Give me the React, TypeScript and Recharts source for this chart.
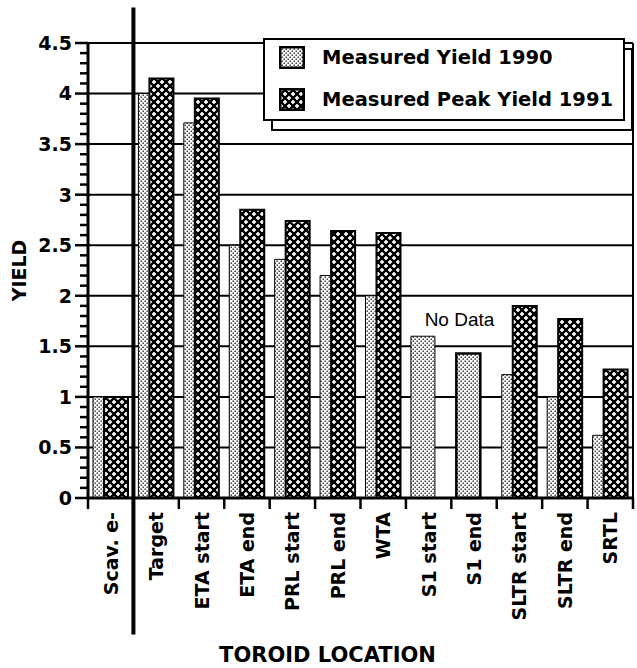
import { BarChart, Bar, XAxis, YAxis, CartesianGrid, Legend, ReferenceLine, ReferenceDot, Cell } from "recharts";

const categories = ["Scav. e-", "Target", "ETA start", "ETA end", "PRL start", "PRL end", "WTA", "S1 start", "S1 end", "SLTR start", "SLTR end", "SRTL"];
const yield1990 = [1.0, 4.0, 3.71, 2.5, 2.36, 2.2, 2.0, 1.6, 1.43, 1.22, 1.0, 0.62];
const yield1991 = [1.0, 4.15, 3.95, 2.85, 2.74, 2.64, 2.62, null, null, 1.9, 1.77, 1.27];
const majorTicks = [0, 0.5, 1, 1.5, 2, 2.5, 3, 3.5, 4, 4.5];
const minorPerMajor = 4; // small ticks every 0.1 between the labelled ones

const data = categories.map((cat, i) => ({ cat, y1990: yield1990[i], y1991: yield1991[i] }));
const order = ["y1990", "y1991"];

const W = 637;
const H = 668;
const TOP = 43;
const X_AXIS_H = 170;
const Y_AXIS_W = 88;
const PLOT_H = H - TOP - X_AXIS_H;

const FONT = "'DejaVu Sans', sans-serif";
const yMax = majorTicks[majorTicks.length - 1];
const majorStep = majorTicks[1] - majorTicks[0];
const toY = (v: number) => TOP + PLOT_H * (1 - v / yMax);

const minorTicks = majorTicks
  .slice(0, -1)
  .flatMap((t) => Array.from({ length: minorPerMajor }, (_, k) => t + (majorStep * (k + 1)) / (minorPerMajor + 1)));

const YTick = (props: any) => {
  const { x, y, payload } = props;
  return (
    <text x={Number(x) - 16} y={Number(y)} dy="0.36em" textAnchor="end" fontFamily={FONT} fontWeight="bold" fontSize={19} fill="#000">
      {String(payload.value)}
    </text>
  );
};

const XTick = ({ x, y, payload, index, visibleTicksCount, width }: any) => {
  const half = payload.offset ?? width / (2 * visibleTicksCount);
  const tx = x + 7;
  const ty = y + 14;
  return (
    <g>
      <line x1={x - half} x2={x - half} y1={y} y2={y + 11} stroke="#000" strokeWidth={2.5} />
      {index === visibleTicksCount - 1 && (
        <line x1={x + half} x2={x + half} y1={y} y2={y + 11} stroke="#000" strokeWidth={2.5} />
      )}
      <text x={tx} y={ty} transform={`rotate(-90, ${tx}, ${ty})`} textAnchor="end" fontFamily={FONT} fontWeight="bold" fontSize={19} fill="#000">
        {payload.value}
      </text>
    </g>
  );
};

const renderLegend = (props: any) => {
  const payload = [...(props.payload || [])].sort((a: any, b: any) => order.indexOf(a.dataKey) - order.indexOf(b.dataKey));
  const box = { position: "absolute" as const, width: 362, height: 83, border: "2px solid #000", background: "#fff", boxSizing: "border-box" as const };
  return (
    <div style={{ position: "relative", width: 372, height: 94 }}>
      <div style={{ ...box, left: 8, top: 10 }} />
      <div style={{ ...box, left: 0, top: 0 }}>
        {payload.map((e: any, i: number) => (
          <div key={e.value} style={{ position: "absolute", left: 14, top: 4 + i * 42, height: 26, display: "flex", alignItems: "center" }}>
            <svg width={26} height={23}>
              <rect x={1.25} y={1.25} width={23.5} height={20.5} fill={e.payload?.fill ?? e.color} stroke="#000" strokeWidth={2.5} />
            </svg>
            <span style={{ marginLeft: 17, fontFamily: FONT, fontWeight: "bold", fontSize: 19.5, color: "#000", whiteSpace: "nowrap" }}>
              {e.value}
            </span>
          </div>
        ))}
      </div>
    </div>
  );
};

export default function App() {
  return (
    <div style={{ position: "absolute", left: 0, top: 0, width: W, height: H, background: "#fff" }}>
      <BarChart width={W} height={H} data={data} margin={{ top: TOP, right: 4, left: 0, bottom: 0 }} barGap={-13}>
        <defs>
          <pattern id="dots" width="4" height="4" patternUnits="userSpaceOnUse">
            <rect width="4" height="4" fill="#fff" />
            <rect x="0.5" y="0.5" width="1.4" height="1.4" fill="#222" />
            <rect x="2.5" y="2.5" width="1.4" height="1.4" fill="#222" />
          </pattern>
          <pattern id="hatch" width="8" height="8" patternUnits="userSpaceOnUse">
            <rect width="8" height="8" fill="#000" />
            <rect x="1.2" y="0" width="1.6" height="4" fill="#fff" />
            <rect x="0" y="1.2" width="4" height="1.6" fill="#fff" />
            <rect x="5.2" y="4" width="1.6" height="4" fill="#fff" />
            <rect x="4" y="5.2" width="4" height="1.6" fill="#fff" />
          </pattern>
        </defs>
        <CartesianGrid vertical={false} stroke="#000" strokeWidth={2} horizontalValues={majorTicks} />
        <XAxis
          dataKey="cat"
          height={X_AXIS_H}
          interval={0}
          tickSize={0}
          tickMargin={0}
          tickLine={false}
          axisLine={{ stroke: "#000", strokeWidth: 3 }}
          tick={XTick}
          label={{ value: "TOROID LOCATION", position: "insideBottom", offset: 6, dx: -33, fontFamily: FONT, fontWeight: "bold", fontSize: 21, fill: "#000" }}
        />
        <YAxis
          width={Y_AXIS_W}
          domain={[0, yMax]}
          ticks={majorTicks}
          interval={0}
          tickSize={0}
          tickMargin={0}
          tickLine={false}
          axisLine={{ stroke: "#000", strokeWidth: 3 }}
          tick={YTick}
          label={{ value: "YIELD", angle: -90, position: "insideLeft", offset: 19, style: { textAnchor: "middle" }, fontFamily: FONT, fontWeight: "bold", fontSize: 19, fill: "#000" }}
        />
        <Legend layout="horizontal" verticalAlign="middle" align="center" content={renderLegend} wrapperStyle={{ left: 263, top: 38, width: 372, height: 94 }} />
        <Bar dataKey="y1990" name="Measured Yield 1990" fill="url(#dots)" stroke="#000" strokeWidth={1} barSize={24} isAnimationActive={false}>
          {data.map((d) => (
            <Cell key={d.cat} fill="url(#dots)" stroke="#000" strokeWidth={d.cat === "S1 end" ? 2.5 : 1} />
          ))}
        </Bar>
        <Bar dataKey="y1991" name="Measured Peak Yield 1991" fill="url(#hatch)" stroke="#000" strokeWidth={2} barSize={24} isAnimationActive={false} />
        <ReferenceLine
          segment={[{ x: "Target", y: 4.85 }, { x: "Target", y: -1.35 }]}
          position="start"
          ifOverflow="visible"
          stroke="#000"
          strokeWidth={4}
        />
        <ReferenceLine x="SRTL" position="end" ifOverflow="visible" stroke="#000" strokeWidth={2} />
        <ReferenceDot
          x="S1 start"
          y={1.7}
          r={0}
          fill="none"
          stroke="none"
          ifOverflow="visible"
          label={({ viewBox }: any) => (
            <text x={viewBox.x - 4} y={viewBox.y} fontFamily="'Liberation Sans', sans-serif" fontSize={19} fill="#000">
              No Data
            </text>
          )}
        />
      </BarChart>
      {/* y-axis tick marks (major + minor), drawn on top */}
      <svg width={W} height={H} style={{ position: "absolute", left: 0, top: 0, pointerEvents: "none" }}>
        {majorTicks.map((t) => (
          <path key={`M${t}`} d={`M${Y_AXIS_W - 13},${toY(t)}H${Y_AXIS_W}`} stroke="#000" strokeWidth={2.5} fill="none" />
        ))}
        {minorTicks.map((t) => (
          <path key={`m${t}`} d={`M${Y_AXIS_W - 8},${toY(t)}H${Y_AXIS_W}`} stroke="#000" strokeWidth={2.5} fill="none" />
        ))}
      </svg>
    </div>
  );
}
